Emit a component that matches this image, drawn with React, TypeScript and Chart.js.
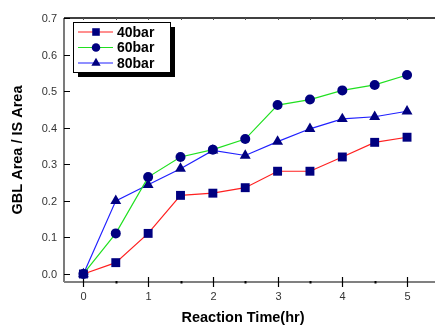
import React, { useEffect, useRef } from "react";
import { Chart, registerables } from "chart.js";

Chart.register(...registerables);

const timesHr = [0, 0.5, 1, 1.5, 2, 2.5, 3, 3.5, 4, 4.5, 5];
const bar40 = [0, 0.031, 0.111, 0.215, 0.221, 0.236, 0.281, 0.281, 0.32, 0.36, 0.374];
const bar60 = [0, 0.111, 0.265, 0.32, 0.34, 0.369, 0.462, 0.477, 0.502, 0.517, 0.544];
const bar80 = [0, 0.2, 0.244, 0.288, 0.338, 0.324, 0.362, 0.397, 0.424, 0.43, 0.445];
const seriesNames = ["40bar", "60bar", "80bar"];
const xTickLabels = ["0", "1", "2", "3", "4", "5"];
const yTickLabels = ["0.0", "0.1", "0.2", "0.3", "0.4", "0.5", "0.6", "0.7"];
const xTitle = "Reaction Time(hr)";
const yTitle = "GBL Area / IS Area";

const lineColors = ["#ff2020", "#20e020", "#2020ff"];
const markerColor = "#000080";
const pointStyles = ["rect", "circle", "triangle"];
const pointRadii = [6.3, 5, 6.3];

function drawMarker(ctx: CanvasRenderingContext2D, style: string, r: number, x: number, y: number) {
  ctx.beginPath();
  if (style === "rect") {
    const s = Math.SQRT1_2 * r;
    ctx.rect(x - s, y - s, 2 * s, 2 * s);
  } else if (style === "circle") {
    ctx.arc(x, y, r, 0, Math.PI * 2);
  } else {
    ctx.moveTo(x, y - r);
    ctx.lineTo(x + r * Math.sin(Math.PI / 3), y + r / 2);
    ctx.lineTo(x - r * Math.sin(Math.PI / 3), y + r / 2);
    ctx.closePath();
  }
  ctx.fill();
}

const framePlugin = {
  id: "framePlugin",
  beforeDatasetsDraw(chart: any) {
    const { ctx, chartArea } = chart;
    const xs = chart.scales.x;
    const ys = chart.scales.y;
    const { left, right, top, bottom } = chartArea;
    ctx.save();
    ctx.strokeStyle = "#000";
    ctx.lineWidth = 1.5;
    ctx.beginPath();
    ctx.moveTo(left, top);
    ctx.lineTo(right, top);
    ctx.stroke();
    ctx.lineWidth = 1.2;
    ctx.strokeStyle = "#222";
    ctx.beginPath();
    ctx.moveTo(left, top);
    ctx.lineTo(left, bottom);
    ctx.stroke();
    ctx.lineWidth = 1;
    ctx.strokeStyle = "#000";
    ctx.fillStyle = "#333";
    ctx.font = "11px Arial, 'Liberation Sans', sans-serif";
    ctx.textAlign = "right";
    ctx.textBaseline = "middle";
    yTickLabels.forEach((lab) => {
      const v = parseFloat(lab);
      const py = Math.round(ys.getPixelForValue(v)) + 0.5;
      ctx.beginPath();
      ctx.moveTo(left, py);
      ctx.lineTo(left + 6, py);
      ctx.stroke();
      ctx.fillText(lab, left - 7, py);
    });
    ctx.lineWidth = 1;
    ctx.strokeStyle = "#555";
    for (let v = 0; v <= 5.001; v += 0.5) {
      const px = Math.round(xs.getPixelForValue(v)) + 0.5;
      ctx.beginPath();
      ctx.moveTo(px, top);
      ctx.lineTo(px, top + 2);
      ctx.stroke();
    }
    ctx.strokeStyle = "#808080";
    ctx.lineWidth = 2;
    ctx.beginPath();
    ctx.moveTo(left, bottom);
    ctx.lineTo(right, bottom);
    ctx.stroke();
    ctx.strokeStyle = "#000";
    ctx.fillStyle = "#333";
    ctx.textAlign = "center";
    ctx.textBaseline = "middle";
    xTickLabels.forEach((lab) => {
      const v = parseFloat(lab);
      const px = Math.round(xs.getPixelForValue(v)) + 0.5;
      ctx.lineWidth = 1.2;
      ctx.beginPath();
      ctx.moveTo(px, bottom - 5);
      ctx.lineTo(px, bottom + 5);
      ctx.stroke();
      ctx.fillText(lab, px, bottom + 15);
      const mx = Math.round(xs.getPixelForValue(v + 0.5)) + 0.5;
      if (v + 0.5 < 5.2) {
        ctx.lineWidth = 2;
        ctx.beginPath();
        ctx.moveTo(mx, bottom - 1);
        ctx.lineTo(mx, bottom + 1.5);
        ctx.stroke();
      }
    });
    ctx.fillStyle = "#000";
    ctx.font = "bold 14.5px Arial, 'Liberation Sans', sans-serif";
    ctx.textAlign = "center";
    ctx.textBaseline = "middle";
    ctx.fillText(xTitle, 243, 318);
    ctx.save();
    ctx.translate(18, (top + bottom) / 2);
    ctx.rotate(-Math.PI / 2);
    ctx.fillText(yTitle, 0, 0);
    ctx.restore();
    ctx.restore();
  },
  afterDraw(chart: any) {
    const { ctx } = chart;
    const bx = 73, by = 22, bw = 97, bh = 50;
    ctx.save();
    ctx.fillStyle = "#000";
    ctx.fillRect(bx + 5, by + 5, bw, bh);
    ctx.fillStyle = "#fff";
    ctx.fillRect(bx, by, bw, bh);
    ctx.strokeStyle = "#000";
    ctx.lineWidth = 1;
    ctx.strokeRect(bx + 0.5, by + 0.5, bw, bh);
    const rows = [32, 47.5, 63];
    seriesNames.forEach((name, i) => {
      const y = rows[i];
      ctx.strokeStyle = lineColors[i];
      ctx.lineWidth = 1.2;
      ctx.beginPath();
      ctx.moveTo(78, y);
      ctx.lineTo(113, y);
      ctx.stroke();
      ctx.fillStyle = markerColor;
      drawMarker(ctx, pointStyles[i], pointRadii[i] * 0.85, 96, y);
      ctx.fillStyle = "#000";
      ctx.font = "bold 14px Arial, 'Liberation Sans', sans-serif";
      ctx.textAlign = "left";
      ctx.textBaseline = "middle";
      ctx.fillText(name, 117, y + 1);
    });
    ctx.restore();
  },
};

export default function App() {
  const ref = useRef<HTMLCanvasElement | null>(null);
  useEffect(() => {
    document.body.style.margin = "0";
    const canvas = ref.current!;
    const data = [bar40, bar60, bar80];
    const chart = new Chart(canvas, {
      type: "line",
      data: {
        datasets: seriesNames.map((name, i) => ({
          label: name,
          data: timesHr.map((t, j) => ({ x: t, y: data[i][j] })),
          borderColor: lineColors[i],
          borderWidth: 1.2,
          backgroundColor: markerColor,
          pointBackgroundColor: markerColor,
          pointBorderColor: markerColor,
          pointBorderWidth: 0,
          pointStyle: pointStyles[i] as any,
          pointRadius: pointRadii[i],
          tension: 0,
          clip: false as any,
        })),
      },
      options: {
        responsive: false,
        animation: false,
        devicePixelRatio: 1,
        layout: { autoPadding: false, padding: { left: 64, right: 0, top: 18, bottom: 45 } } as any,
        plugins: { legend: { display: false }, tooltip: { enabled: false } },
        scales: {
          x: { type: "linear", min: -0.3, max: 5.432, display: false },
          y: { type: "linear", min: -0.0219, max: 0.7, display: false },
        },
      },
      plugins: [framePlugin],
    });
    return () => chart.destroy();
  }, []);
  return (
    <div style={{ width: 435, height: 327 }}>
      <canvas ref={ref} width={435} height={327} />
    </div>
  );
}
